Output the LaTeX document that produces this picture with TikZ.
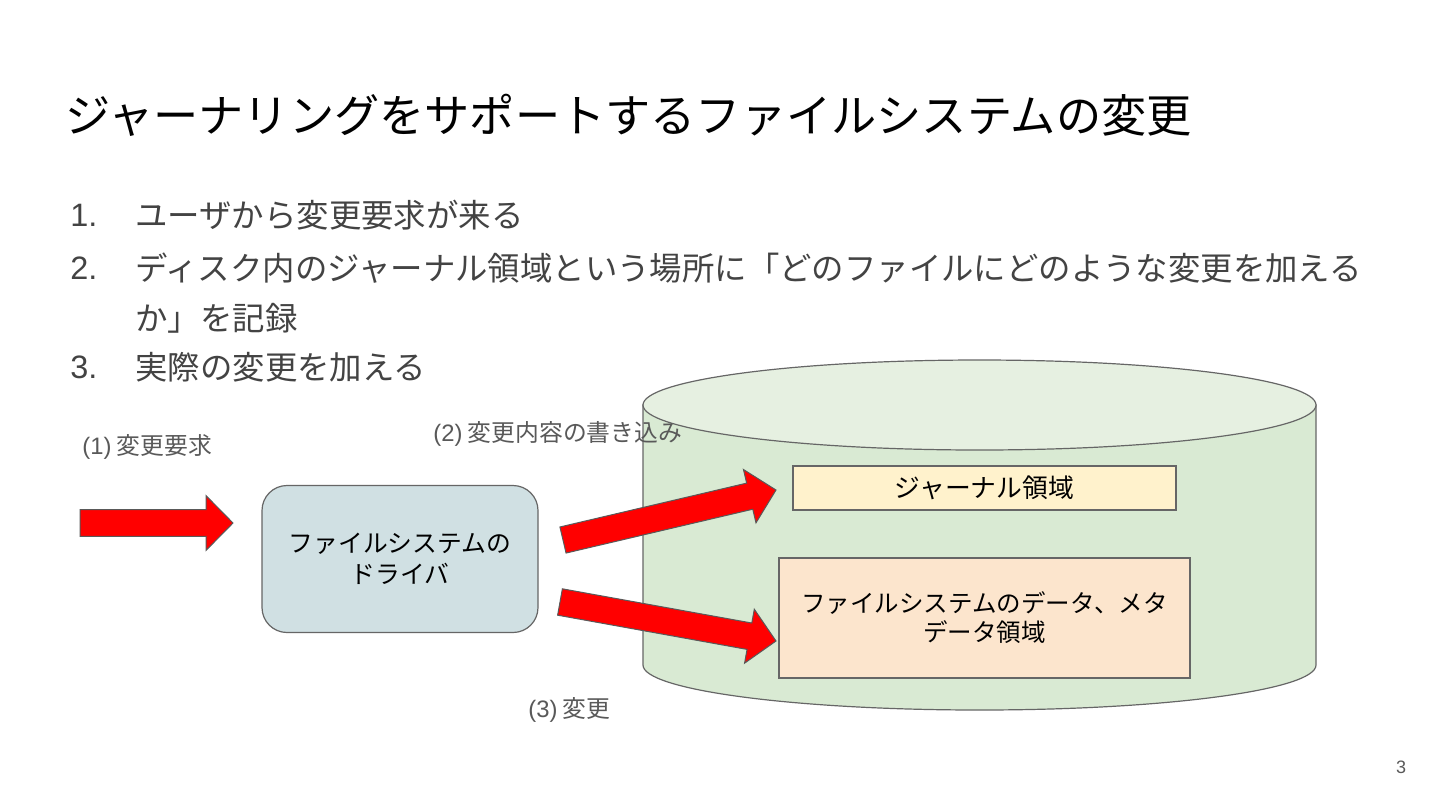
\documentclass[tikz,border=0pt]{standalone}
\usepackage{fontspec}
\setmainfont{Noto Sans CJK JP}
\newfontfamily\latf{Liberation Sans}
\usetikzlibrary{calc}
\definecolor{listgray}{HTML}{434343}
\definecolor{labgray}{HTML}{595959}
\definecolor{edgegray}{HTML}{666666}
\definecolor{cylbody}{HTML}{D9EAD3}
\definecolor{cyltop}{HTML}{E6F0E1}
\definecolor{drvfill}{HTML}{D0E0E3}
\definecolor{jrnfill}{HTML}{FFF2CC}
\definecolor{datfill}{HTML}{FCE5CD}
\definecolor{arrred}{HTML}{FF0000}
\tikzset{
  title/.style={anchor=west, inner sep=0pt, font=\fontsize{22.6pt}{27pt}\selectfont, text=black},
  listnum/.style={anchor=west, inner sep=0pt, font=\latf\fontsize{16.2pt}{20pt}\selectfont, text=listgray},
  listtxt/.style={anchor=west, inner sep=0pt, font=\fontsize{16.2pt}{20pt}\selectfont, text=listgray},
  lab/.style={anchor=west, inner sep=0pt, font=\fontsize{11.9pt}{14pt}\selectfont, text=labgray},
  boxtxt/.style={draw=edgegray, line width=0.6pt, align=center, inner sep=0pt, text=black},
  blockarr/.style={fill=arrred, draw=black!65, line width=0.5pt, line join=miter},
}
\newcommand\blockarrow[2]{%
  \coordinate (ba-c) at ($(#2)!13.5pt!(#1)$);
  \draw[blockarr] ($(#1)!6.7pt!90:(#2)$) -- ($(ba-c)!6.7pt!90:(#2)$) -- ($(ba-c)!13.7pt!90:(#2)$) -- (#2)
    -- ($(ba-c)!13.7pt!-90:(#2)$) -- ($(ba-c)!6.7pt!-90:(#2)$) -- ($(#1)!6.7pt!-90:(#2)$) -- cycle;
}
\begin{document}
\begin{tikzpicture}[x=0.5pt, y=-0.5pt]
\fill[white] (0,0) rectangle (1440,810);
\useasboundingbox (0,0) rectangle (1440,810);

% title
\node[title] (title) at (65,115) {ジャーナリングをサポートするファイルシステムの変更};

% list
\node[listnum] (n1) at (70,215) {1.};
\node[listtxt] (l1) at (135,215) {ユーザから変更要求が来る};
\node[listnum] (n2) at (70,268) {2.};
\node[listtxt] (l2) at (135,268) {ディスク内のジャーナル領域という場所に「どのファイルにどのような変更を加える};
\node[listtxt] (l2b) at (135,318) {か」を記録};
\node[listnum] (n3) at (70,367) {3.};
\node[listtxt] (l3) at (135,367) {実際の変更を加える};

% cylinder (disk)
\draw[draw=edgegray, line width=0.6pt, fill=cylbody] (643,405) -- (643,665)
  arc[start angle=180, end angle=360, x radius=168.25pt, y radius=22.5pt] -- (1316,405) -- cycle;
\draw[draw=edgegray, line width=0.6pt, fill=cyltop] (979.5,405) ellipse[x radius=168.25pt, y radius=22.5pt];

% boxes
\node[boxtxt, fill=drvfill, rounded corners=12.5pt, minimum width=138pt, minimum height=73.5pt,
      font=\fontsize{12.4pt}{15.5pt}\selectfont] (drv) at (400,559) {ファイルシステムの\\ドライバ};
\node[boxtxt, fill=jrnfill, minimum width=191.5pt, minimum height=22pt,
      font=\fontsize{12.9pt}{15pt}\selectfont] (jrn) at (984.5,488) {ジャーナル領域};
\node[boxtxt, fill=datfill, minimum width=205.5pt, minimum height=60pt,
      font=\fontsize{12.25pt}{14.5pt}\selectfont] (dat) at (984.5,618) {ファイルシステムのデータ、メタ\\データ領域};

% labels
\node[lab] (lab1) at (82,447) {{\latf (1)} 変更要求};
\node[lab] (lab2) at (433,434) {{\latf (2)} 変更内容の書き込み};
\node[lab] (lab3) at (528,710) {{\latf (3)} 変更};

% arrows
\coordinate (a1s) at (80,523);
\coordinate (a1e) at (233,523);
\coordinate (a2s) at (563,540);
\coordinate (a2e) at (776,490);
\coordinate (a3s) at (560,602);
\coordinate (a3e) at (776,641);
\blockarrow{a1s}{a1e}
\blockarrow{a2s}{a2e}
\blockarrow{a3s}{a3e}

% page number
\node[inner sep=0pt, font=\latf\fontsize{9pt}{11pt}\selectfont, text=labgray] (pg) at (1401,767) {3};
\end{tikzpicture}
\end{document}
